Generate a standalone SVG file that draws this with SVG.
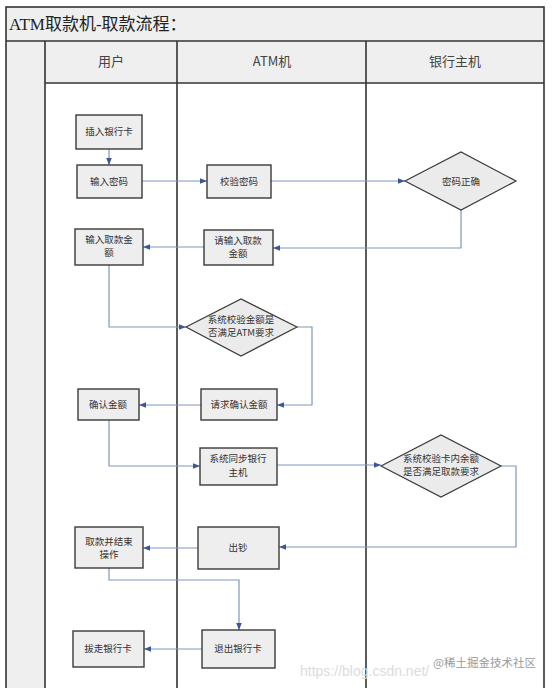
<svg xmlns="http://www.w3.org/2000/svg" width="554" height="688" viewBox="0 0 554 688">
<defs>
<style>
.frame{fill:none;stroke:#333;stroke-width:1.6}
.lane{stroke:#333;stroke-width:1.6}
.band{fill:#efefef}
.box{fill:#eeeeee;stroke:#3a3a3a;stroke-width:1.4}
.dia{fill:#ebebeb;stroke:#3a3a3a;stroke-width:1.2}
.t{font-family:"Noto Sans CJK SC","Liberation Sans",sans-serif;font-size:9.5px;fill:#333;text-anchor:middle}
.h{font-family:"Noto Sans CJK SC","Liberation Sans",sans-serif;font-size:13px;fill:#444;text-anchor:middle}
.c{fill:none;stroke:#7d97bb;stroke-width:1.2}
</style>
<marker id="a" viewBox="0 0 10 10" refX="10" refY="5" markerWidth="7" markerHeight="7" orient="auto" markerUnits="userSpaceOnUse">
<path d="M0,1 L10,5 L0,9 z" fill="#3d5599"/>
</marker>
</defs>
<rect x="0" y="0" width="554" height="688" fill="#fff"/>
<g id="frame">
<rect class="band" x="6" y="7" width="538" height="34"/>
<rect class="band" x="6" y="41" width="538" height="42"/>
<rect class="band" x="6" y="41" width="39" height="647"/>
<rect class="frame" x="6" y="7" width="538" height="690"/>
<line class="lane" x1="6" y1="41" x2="544" y2="41"/>
<line class="lane" x1="45" y1="83" x2="544" y2="83"/>
<line class="lane" x1="45" y1="41" x2="45" y2="688"/>
<line class="lane" x1="177" y1="41" x2="177" y2="688"/>
<line class="lane" x1="366" y1="41" x2="366" y2="688"/>
<text x="9" y="30" font-family="Liberation Serif,'Noto Sans CJK SC',serif" font-size="17" fill="#222">ATM取款机-取款流程：</text>
<text class="h" x="111" y="66">用户</text>
<text class="h" x="272" y="66">ATM机</text>
<text class="h" x="455" y="66">银行主机</text>
</g>
<g id="connectors">
<path class="c" d="M109,149 V165" marker-end="url(#a)"/>
<path class="c" d="M142,181 H207" marker-end="url(#a)"/>
<path class="c" d="M271,181 H405" marker-end="url(#a)"/>
<path class="c" d="M461,210 V248 H273" marker-end="url(#a)"/>
<path class="c" d="M204,247 H143" marker-end="url(#a)"/>
<path class="c" d="M109,265 V327 H186" marker-end="url(#a)"/>
<path class="c" d="M297,327 H312 V405 H277" marker-end="url(#a)"/>
<path class="c" d="M201,405 H139" marker-end="url(#a)"/>
<path class="c" d="M109,420 V466 H200" marker-end="url(#a)"/>
<path class="c" d="M277,465 H381" marker-end="url(#a)"/>
<path class="c" d="M501,466 H516 V547 H279" marker-end="url(#a)"/>
<path class="c" d="M198,548 H143" marker-end="url(#a)"/>
<path class="c" d="M109,568 V580 H239 V630" marker-end="url(#a)"/>
<path class="c" d="M202,649 H144" marker-end="url(#a)"/>
</g>
<g id="n1"><rect class="box" x="76" y="115" width="66" height="34"/><text class="t" x="109" y="135">插入银行卡</text></g>
<g id="n2"><rect class="box" x="77" y="165" width="65" height="33"/><text class="t" x="109" y="185">输入密码</text></g>
<g id="n3"><rect class="box" x="207" y="165" width="64" height="33"/><text class="t" x="239" y="185">校验密码</text></g>
<g id="n4"><polygon class="dia" points="405,181 461,152 516,181 461,210"/><text class="t" x="461" y="185">密码正确</text></g>
<g id="n5"><rect class="box" x="204" y="230" width="69" height="35"/><text class="t" x="238" y="244">请输入取款</text><text class="t" x="238" y="257">金额</text></g>
<g id="n6"><rect class="box" x="75" y="229" width="68" height="36"/><text class="t" x="109" y="243">输入取款金</text><text class="t" x="109" y="256">额</text></g>
<g id="n7"><polygon class="dia" points="186,327 241,299 297,327 241,356"/><text class="t" x="241" y="323">系统校验金额是</text><text class="t" x="241" y="336">否满足ATM要求</text></g>
<g id="n8"><rect class="box" x="201" y="389" width="76" height="31"/><text class="t" x="239" y="408">请求确认金额</text></g>
<g id="n9"><rect class="box" x="78" y="389" width="61" height="31"/><text class="t" x="108" y="408">确认金额</text></g>
<g id="n10"><rect class="box" x="200" y="448" width="77" height="37"/><text class="t" x="238" y="462">系统同步银行</text><text class="t" x="238" y="476">主机</text></g>
<g id="n11"><polygon class="dia" points="381,466 441,435 501,466 441,497"/><text class="t" x="441" y="462">系统校验卡内余额</text><text class="t" x="441" y="475">是否满足取款要求</text></g>
<g id="n12"><rect class="box" x="198" y="527" width="81" height="42"/><text class="t" x="238" y="551">出钞</text></g>
<g id="n13"><rect class="box" x="75" y="527" width="68" height="41"/><text class="t" x="109" y="545">取款并结束</text><text class="t" x="109" y="558">操作</text></g>
<g id="n14"><rect class="box" x="202" y="630" width="73" height="38"/><text class="t" x="238" y="652">退出银行卡</text></g>
<g id="n15"><rect class="box" x="73" y="631" width="71" height="36"/><text class="t" x="108" y="652">拔走银行卡</text></g>
<g id="watermark">
<text x="300" y="676" font-family="Liberation Sans,sans-serif" font-size="14" fill="#dcdcdc">https://blog.csdn.net/</text>
<text x="433" y="667" font-family="'Noto Sans CJK SC',sans-serif" font-size="11.5" fill="#9a9a9a">@稀土掘金技术社区</text>
</g>
</svg>
